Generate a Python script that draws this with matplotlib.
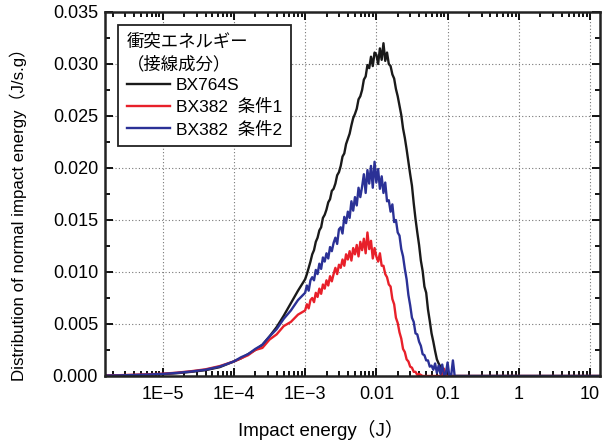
import numpy as np
import matplotlib
matplotlib.use("Agg")
import matplotlib.pyplot as plt
from matplotlib.ticker import FixedLocator, MultipleLocator, FuncFormatter, LogLocator, NullFormatter

plt.rcParams['font.family'] = ['Liberation Sans', 'Noto Sans CJK JP', 'DejaVu Sans']

# bin centres (log10 of impact energy, J)
logx_coarse = [-5.8, -5.6, -5.4, -5.2, -5.0, -4.8, -4.6, -4.4, -4.2, -4.0,
               -3.9, -3.8, -3.7, -3.6, -3.5, -3.4, -3.3, -3.2, -3.1]
logx_fine = list(np.round(np.arange(-3.0, -0.799, 0.025), 3))
logx_tail = [-0.75, -0.5, 0.0, 0.5, 1.0, 1.2]

bx764s = [0.00003, 0.00005, 0.00008, 0.00012, 0.00018, 0.00027, 0.0004, 0.00056, 0.00085, 0.0014,
          0.0017, 0.0021, 0.0025, 0.0030, 0.0038, 0.0047, 0.0058, 0.0070, 0.0082,
          0.0093, 0.0098, 0.0104, 0.0110,
          0.0117, 0.0121, 0.0129, 0.0133,
          0.0140, 0.0143, 0.0152, 0.0155,
          0.0160, 0.0167, 0.0170, 0.0178,
          0.0180, 0.0185, 0.0193, 0.0196,
          0.0202, 0.0211, 0.0214, 0.0223,
          0.0228, 0.0233, 0.0241, 0.0248,
          0.0252, 0.0257, 0.0266, 0.0269,
          0.0275, 0.0285, 0.0288, 0.0299,
          0.0296, 0.0307, 0.0298, 0.0311,
          0.0309, 0.0300, 0.0315, 0.0304,
          0.0320, 0.0303, 0.0311, 0.0300,
          0.0298, 0.0290, 0.0286, 0.0276,
          0.0269, 0.0260, 0.0251, 0.0238,
          0.0229, 0.0218, 0.0206, 0.0194,
          0.0183, 0.0166, 0.0151, 0.0138,
          0.0126, 0.0111, 0.0101, 0.0086,
          0.0080, 0.0064, 0.0053, 0.0041,
          0.0033, 0.0024, 0.0016, 0.0012,
          0.0009, 0.0005, 0.0003, 0.0001,
          0.0, 0.0, 0.0, 0.0,
          0.0, 0.0, 0.0, 0.0, 0.0,
          0.0, 0.0, 0.0, 0.0, 0.0, 0.0]

bx382_1 = [0.00005, 0.00008, 0.00012, 0.00016, 0.00022, 0.00032, 0.00046, 0.00064, 0.00095, 0.0014,
           0.0017, 0.0020, 0.0025, 0.0027, 0.0035, 0.0040, 0.0048, 0.0052, 0.0059,
           0.0063, 0.0069, 0.0065, 0.0073,
           0.0075, 0.0071, 0.0080, 0.0076,
           0.0084, 0.0079, 0.0088, 0.0084,
           0.0092, 0.0087, 0.0096, 0.0091,
           0.0098, 0.0104, 0.0098, 0.0107,
           0.0104, 0.0112, 0.0106, 0.0117,
           0.0112, 0.0120, 0.0111, 0.0123,
           0.0117, 0.0126, 0.0115, 0.0129,
           0.0121, 0.0132, 0.0118, 0.0138,
           0.0122, 0.0130, 0.0113, 0.0123,
           0.0115, 0.0110, 0.0118, 0.0106,
           0.0106, 0.0098, 0.0095, 0.0088,
           0.0086, 0.0074, 0.0069, 0.0056,
           0.0051, 0.0042, 0.0036, 0.0026,
           0.0023, 0.0016, 0.0014, 0.0009,
           0.0008, 0.0004, 0.0004, 0.0001,
           0.0002, 0.0001, 0.0, 0.0,
           0.0, 0.0, 0.0, 0.0,
           0.0, 0.0, 0.0, 0.0,
           0.0, 0.0, 0.0007, 0.0,
           0.0, 0.0, 0.0, 0.0,
           0.0, 0.0, 0.0, 0.0, 0.0,
           0.0, 0.0, 0.0, 0.0, 0.0, 0.0]

bx382_2 = [0.00004, 0.00006, 0.0001, 0.00014, 0.0002, 0.0003, 0.00043, 0.0006, 0.0009, 0.0014,
           0.0018, 0.0021, 0.0026, 0.0030, 0.0038, 0.0045, 0.0055, 0.0063, 0.0073,
           0.0080, 0.0087, 0.0082, 0.0092,
           0.0095, 0.0092, 0.0102, 0.0098,
           0.0108, 0.0103, 0.0114, 0.0110,
           0.0118, 0.0113, 0.0124, 0.0120,
           0.0128, 0.0133, 0.0127, 0.0141,
           0.0143, 0.0137, 0.0153, 0.0147,
           0.0158, 0.0152, 0.0168, 0.0159,
           0.0172, 0.0164, 0.0181, 0.0172,
           0.0182, 0.0194, 0.0176, 0.0198,
           0.0185, 0.0202, 0.0181, 0.0206,
           0.0186, 0.0199, 0.0180, 0.0192,
           0.0176, 0.0186, 0.0168, 0.0169,
           0.0158, 0.0165, 0.0148, 0.0150,
           0.0138, 0.0135, 0.0122, 0.0115,
           0.0103, 0.0093, 0.0078, 0.0068,
           0.0056, 0.0052, 0.0041, 0.0040,
           0.0033, 0.0029, 0.0021, 0.0020,
           0.0015, 0.0015, 0.0009, 0.0010,
           0.0006, 0.0012, 0.0003, 0.0010,
           0.0002, 0.0011, 0.0001, 0.0002,
           0.0013, 0.0, 0.0, 0.0015,
           0.0, 0.0, 0.0, 0.0, 0.0,
           0.0, 0.0, 0.0, 0.0, 0.0, 0.0]

labels = ["BX764S", "BX382  条件1", "BX382  条件2"]
colors = ["#1a1a1a", "#e8202a", "#2b3196"]
legend_title = "衝突エネルギー\n（接線成分）"

xtick_vals = [1e-5, 1e-4, 1e-3, 1e-2, 1e-1, 1, 10]
xtick_text = ["1E\u22125", "1E\u22124", "1E\u22123", "0.01", "0.1", "1", "10"]

logx = logx_coarse + logx_fine + logx_tail
x = 10 ** np.array(logx)

fig = plt.figure(figsize=(6.03, 4.41), dpi=100)
ax = fig.add_axes([0.1741, 0.1474, 0.8209, 0.8254])

for ys, lab, c in zip([bx764s, bx382_1, bx382_2], labels, colors):
    ax.plot(x, ys, color=c, lw=1.7, label=lab)

ax.set_xscale("log")
ax.set_xlim(1.55e-6, 13.8)
ax.set_ylim(0, 0.035)

ax.xaxis.set_major_locator(FixedLocator(xtick_vals))
ax.xaxis.set_minor_locator(LogLocator(base=10, subs=range(2, 10), numticks=20))
ax.xaxis.set_minor_formatter(NullFormatter())
ax.set_xticklabels(xtick_text)
ax.yaxis.set_major_locator(MultipleLocator(0.005))
ax.yaxis.set_minor_locator(MultipleLocator(0.0025))
ax.yaxis.set_major_formatter(FuncFormatter(lambda v, p: "%.3f" % v))

ax.tick_params(which="both", direction="in", top=True, right=True, labelsize=13, width=1.3)
ax.tick_params(axis="x", pad=7)
ax.tick_params(axis="y", pad=5)
ax.tick_params(which="major", length=6)
ax.tick_params(which="minor", length=3.5)
for s in ax.spines.values():
    s.set_linewidth(1.8)
    s.set_color("#222222")

ax.grid(True, which="major", linestyle=(0, (1, 2)), color="#777777", linewidth=0.8)

ax.set_xlabel("Impact energy（J）", fontsize=13.5)
ax.xaxis.set_label_coords(0.436, -0.122)
ax.set_ylabel("Distribution of normal impact energy（J/s.g）", fontsize=12.2)
ax.yaxis.set_label_coords(-0.158, 0.455)

leg = ax.legend(title=legend_title, loc="upper left", bbox_to_anchor=(0.027, 0.965),
                fontsize=12.5, title_fontsize=12.5, fancybox=False, framealpha=1,
                edgecolor="#222222", handlelength=2.5, handletextpad=0.3,
                borderpad=0.5, labelspacing=0.35, borderaxespad=0)
leg._legend_box.align = "left"
leg.get_title().set_linespacing(1.4)
leg.get_frame().set_linewidth(1.3)

fig.savefig("out.png", dpi=100)
